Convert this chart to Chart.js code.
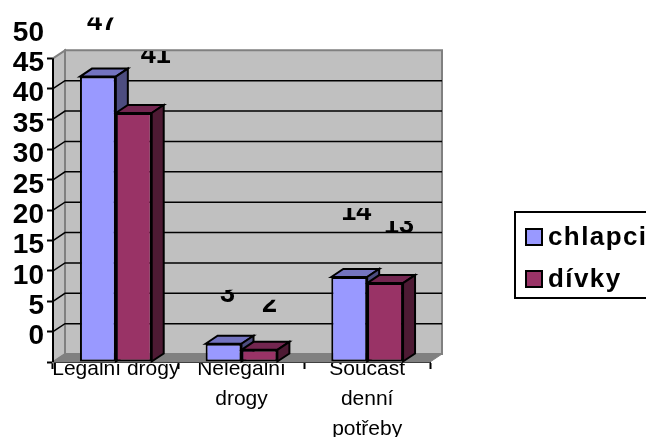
<!DOCTYPE html>
<html lang="cs">
<head>
    <meta charset="UTF-8">
    <title>Drogy</title>
    <script src="https://cdnjs.cloudflare.com/ajax/libs/Chart.js/4.4.1/chart.umd.js"></script>
    <style>
        html, body { margin: 0; padding: 0; background: #fff; overflow: hidden; }
        canvas { display: block; }
    </style>
</head>
<body>
    <canvas id="graph1" width="646" height="437"></canvas>
    <script>
        const categories = [["Legální drogy"], ["Nelegální", "drogy"], ["Součást", "denní", "potřeby"]];
        const seriesNames = ["chlapci", "dívky"];
        const chlapci = [47, 3, 14];
        const divky = [41, 2, 13];
        const yMax = 50;
        const yStep = 5;

        // value labels sit oddly in the original, so they get their own nudges
        const labelDx = [[4, 4, 7], [22, 10, 14]];
        const labelDy = [[-47, -42, -57], [-50, -38, -50]];

        const depthX = 12;
        const depthY = 8;
        const fontName = '"Liberation Sans", Arial, sans-serif';

        function poly(ctx, pts, fill, stroke, lw) {
            ctx.beginPath();
            ctx.moveTo(pts[0][0], pts[0][1]);
            for (var i = 1; i < pts.length; i++) {
                ctx.lineTo(pts[i][0], pts[i][1]);
            }
            ctx.closePath();
            if (fill) {
                ctx.fillStyle = fill;
                ctx.fill();
            }
            if (stroke) {
                ctx.strokeStyle = stroke;
                ctx.lineWidth = lw;
                ctx.stroke();
            }
        }

        const box3d = {
            id: "box3d",
            beforeDatasetsDraw(chart) {
                const ctx = chart.ctx;
                const ys = chart.scales.y;
                const left = chart.chartArea.left;
                const right = chart.chartArea.right;
                const y0 = ys.getPixelForValue(0);
                const yTop = ys.getPixelForValue(yMax);
                ctx.save();
                // walls and floor
                poly(ctx, [[left, y0], [left, yTop], [left + depthX, yTop - depthY], [left + depthX, y0 - depthY]], "#c0c0c0", "#808080", 2);
                poly(ctx, [[left + depthX, y0 - depthY], [left + depthX, yTop - depthY], [right + depthX, yTop - depthY], [right + depthX, y0 - depthY]], "#c0c0c0", "#808080", 2);
                poly(ctx, [[left, y0], [left + depthX, y0 - depthY], [right + depthX, y0 - depthY], [right, y0]], "#808080", "#808080", 1);
                // grid lines on the back wall, running round the side wall
                ctx.strokeStyle = "#000";
                ctx.lineWidth = 1.5;
                for (var v = yStep; v < yMax; v += yStep) {
                    var py = ys.getPixelForValue(v);
                    ctx.beginPath();
                    ctx.moveTo(left, py);
                    ctx.lineTo(left + depthX, py - depthY);
                    ctx.lineTo(right + depthX, py - depthY);
                    ctx.stroke();
                }
                ctx.lineWidth = 2;
                ctx.beginPath();
                ctx.moveTo(left, y0);
                ctx.lineTo(left, yTop);
                ctx.stroke();
                // value labels, only their lower part shows in the original
                ctx.font = "bold 27px " + fontName;
                ctx.textAlign = "center";
                ctx.textBaseline = "alphabetic";
                ctx.fillStyle = "#000";
                chart.data.datasets.forEach(function (ds, d) {
                    chart.getDatasetMeta(d).data.forEach(function (el, i) {
                        var tx = el.x + labelDx[d][i];
                        var ty = el.y + labelDy[d][i];
                        ctx.save();
                        ctx.beginPath();
                        ctx.rect(tx - 30, ty - 12, 60, 20);
                        ctx.clip();
                        ctx.fillText(String(ds.data[i]), tx, ty);
                        ctx.restore();
                    });
                });
                // tops and sides of the bars
                chart.data.datasets.forEach(function (ds, d) {
                    chart.getDatasetMeta(d).data.forEach(function (el) {
                        var l = el.x - el.width / 2;
                        var r = el.x + el.width / 2;
                        poly(ctx, [[l, el.y], [l + depthX, el.y - depthY], [r + depthX, el.y - depthY], [r, el.y]], ds.topColor, "#000", 2);
                        poly(ctx, [[r, el.y], [r + depthX, el.y - depthY], [r + depthX, el.base - depthY], [r, el.base]], ds.sideColor, "#000", 2);
                    });
                });
                ctx.restore();
            },
            afterDraw(chart) {
                const ctx = chart.ctx;
                ctx.save();
                // legend box runs off the right edge like in the original
                ctx.fillStyle = "#fff";
                ctx.strokeStyle = "#000";
                ctx.lineWidth = 2;
                ctx.fillRect(515, 212, 150, 86);
                ctx.strokeRect(515, 212, 150, 86);
                ctx.font = "bold 26px " + fontName;
                ctx.letterSpacing = "1.4px";
                ctx.textAlign = "left";
                ctx.textBaseline = "alphabetic";
                chart.data.datasets.forEach(function (ds, d) {
                    var top = 229 + d * 42;
                    ctx.fillStyle = ds.backgroundColor;
                    ctx.fillRect(526, top, 16, 16);
                    ctx.strokeRect(526, top, 16, 16);
                    ctx.fillStyle = "#000";
                    ctx.fillText(seriesNames[d], 548, top + 16);
                });
                ctx.restore();
            }
        };

        new Chart("graph1", {
            type: "bar",
            data: {
                labels: categories,
                datasets: [
                    { label: seriesNames[0], data: chlapci, backgroundColor: "#9999ff", topColor: "#7373bf", sideColor: "#4d4d80", borderColor: "#000", borderWidth: 2, borderSkipped: false },
                    { label: seriesNames[1], data: divky, backgroundColor: "#993366", topColor: "#732650", sideColor: "#4d1a33", borderColor: "#000", borderWidth: 2, borderSkipped: false }
                ]
            },
            options: {
                responsive: false,
                animation: false,
                barPercentage: 1,
                categoryPercentage: 0.571,
                layout: { padding: { top: 28, right: 216, left: 0, bottom: 0 } },
                plugins: { legend: { display: false }, tooltip: { enabled: false } },
                scales: {
                    x: {
                        z: 1,
                        afterFit(scale) { scale.height = 75; },
                        grid: { drawOnChartArea: false, tickColor: "#000", tickLength: 7, tickWidth: 2 },
                        border: { color: "#000", width: 2 },
                        ticks: {
                            autoSkip: false,
                            color: "#000",
                            maxRotation: 0,
                            padding: -15,
                            font: { family: fontName, size: 21, lineHeight: 1.43 }
                        }
                    },
                    y: {
                        min: 0,
                        max: yMax + yStep,
                        afterFit(scale) { scale.width = 53; },
                        grid: {
                            drawOnChartArea: false,
                            tickLength: 6,
                            tickWidth: 2,
                            tickColor: function (c) { return c.tick.value > yMax ? "transparent" : "#000"; }
                        },
                        border: { display: false },
                        ticks: {
                            stepSize: yStep,
                            autoSkip: false,
                            color: "#000",
                            padding: 3,
                            labelOffset: 5,
                            font: { family: fontName, size: 28, weight: "bold" },
                            // the original prints each number one step lower than its tick
                            callback: function (v) { return v === 0 ? "" : v - yStep; }
                        }
                    }
                }
            },
            plugins: [box3d]
        });
    </script>
</body>
</html>
